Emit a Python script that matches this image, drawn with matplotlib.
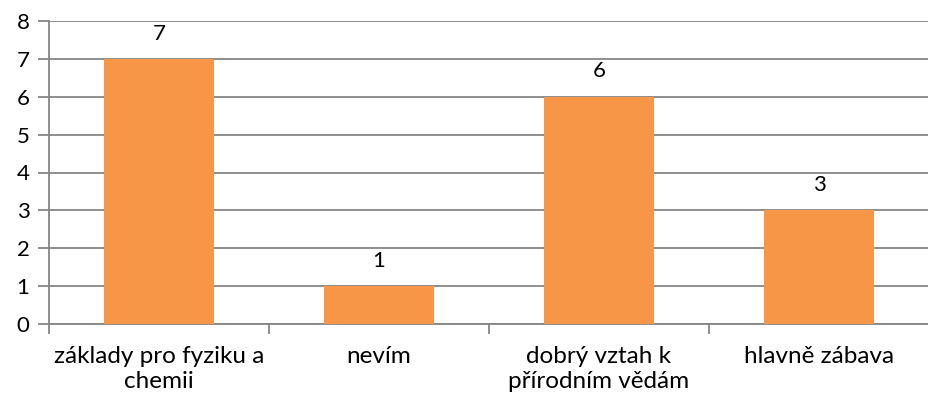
import matplotlib.pyplot as plt

plt.rcParams['font.family'] = ['Lato', 'DejaVu Sans']

kategorie = ['základy pro fyziku a\nchemii', 'nevím', 'dobrý vztah k\npřírodním vědám', 'hlavně zábava']
hodnoty = [7, 1, 6, 3]

barva = '#F79646'
seda = '#868686'

fig = plt.figure(figsize=(9.29, 4.01), dpi=100)
ax = fig.add_axes([49 / 929, 1 - 324 / 401, 1 - 49 / 929, (324 - 21) / 401])

x = list(range(len(kategorie)))
ax.bar(x, hodnoty, width=0.5, color=barva, zorder=3)

# popisky hodnot nad sloupci
for xi, v in zip(x, hodnoty):
    ax.annotate(str(v), (xi, v), xytext=(0, 11), textcoords='offset points',
                ha='center', va='bottom', fontsize=16)

# popisky kategorií pod osou
for xi, k in zip(x, kategorie):
    ax.annotate(k, (xi, 0), xycoords=('data', 'axes fraction'),
                xytext=(0, -16), textcoords='offset points',
                ha='center', va='top', multialignment='center',
                fontsize=17.5, linespacing=1.25)

ax.set_xlim(-0.5, len(kategorie) - 0.5)
ax.set_ylim(0, 8)
ax.set_yticks(range(0, 9))
ax.yaxis.grid(True, color=seda, linewidth=1.3, zorder=0)
ax.set_axisbelow(True)

ax.set_xticks([i - 0.5 for i in range(len(kategorie) + 1)])
ax.set_xticklabels([])
ax.tick_params(axis='x', length=7, width=1.3, color=seda)
ax.tick_params(axis='y', length=8, width=1.3, color=seda, labelsize=16, pad=6)

for s in ['top', 'right']:
    ax.spines[s].set_visible(False)
for s in ['left', 'bottom']:
    ax.spines[s].set_color(seda)
    ax.spines[s].set_linewidth(1.3)

fig.savefig('out.png', dpi=100)
